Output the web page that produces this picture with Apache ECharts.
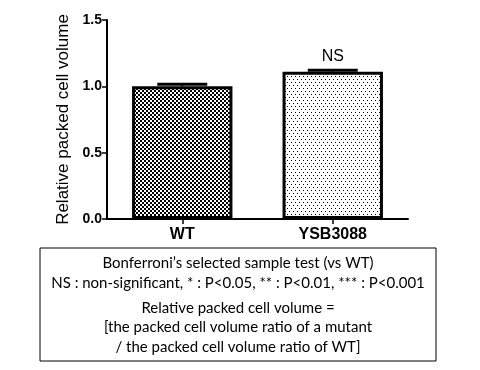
<!DOCTYPE html>
<html><head><meta charset="utf-8">
<script src="https://cdn.jsdelivr.net/npm/echarts@6/dist/echarts.min.js"></script>
<style>html,body{margin:0;padding:0;background:#fff}#c{width:480px;height:370px}</style>
</head><body><div id="c"></div>
<script>
var categories = ['WT', 'YSB3088'];
var values = [1.0, 1.11];
var errors = [0.015, 0.012];
var sigLabels = ['', 'NS'];
var yTicks = [0, 0.5, 1.0, 1.5];
var noteLines1 = ['Bonferroni\u2019s selected sample test (vs WT)', 'NS : non-significant, * : P<0.05, ** : P<0.01, *** : P<0.001'];
var noteLines2 = ['Relative packed cell volume =', '[the packed cell volume ratio of a mutant', '/ the packed cell volume ratio of WT]'];

function checker() {
  var c = document.createElement('canvas'); c.width = 4; c.height = 4;
  var g = c.getContext('2d'); g.fillStyle = '#fff'; g.fillRect(0,0,4,4);
  g.fillStyle = '#000'; g.fillRect(0,0,2,2); g.fillRect(2,2,2,2); return c;
}
function dots() {
  var c = document.createElement('canvas'); c.width = 4; c.height = 6;
  var g = c.getContext('2d'); g.fillStyle = '#fff'; g.fillRect(0,0,4,6);
  g.fillStyle = '#000'; g.fillRect(1,1,1,1); g.fillRect(3,4,1,1); return c;
}
var patterns = [checker(), dots()];

var chart = echarts.init(document.getElementById('c'), null, {renderer: 'canvas'});
var barData = values.map(function (v, i) {
  return {
    value: v,
    itemStyle: {color: {image: patterns[i], repeat: 'repeat'}},
    label: {show: !!sigLabels[i], formatter: sigLabels[i]}
  };
});
var font = 'Arial, "Liberation Sans", sans-serif';
var noteFont = 'Lato, "Open Sans", sans-serif';
var graphics = [{
  type: 'rect', shape: {x: 40, y: 248, width: 396, height: 113},
  style: {fill: '#fff', stroke: '#000', lineWidth: 1}
}];
noteLines1.forEach(function (t, i) {
  graphics.push({type: 'text', x: 238, y: 263 + i * 20, style: {text: t, font: '15px ' + noteFont, fill: '#000', align: 'center', verticalAlign: 'middle'}});
});
noteLines2.forEach(function (t, i) {
  graphics.push({type: 'text', x: 238, y: 308 + i * 19.5, style: {text: t, font: '15px ' + noteFont, fill: '#000', align: 'center', verticalAlign: 'middle'}});
});

chart.setOption({
  animation: false,
  grid: {left: 107, right: 72, top: 20, bottom: 151},
  xAxis: {
    type: 'category', data: categories,
    axisLine: {lineStyle: {color: '#000', width: 2}},
    axisTick: {show: true, alignWithLabel: true, length: 5, lineStyle: {color: '#000', width: 1.5}},
    axisLabel: {color: '#000', fontWeight: 'bold', fontSize: 16, fontFamily: font, margin: 8}
  },
  yAxis: {
    type: 'value', min: 0, max: 1.5, interval: 0.5,
    name: 'Relative packed cell volume', nameLocation: 'middle', nameGap: 30,
    nameTextStyle: {color: '#000', fontSize: 17, fontFamily: font},
    axisLine: {show: true, lineStyle: {color: '#000', width: 2}},
    axisTick: {show: true, length: 5, lineStyle: {color: '#000', width: 1.5}},
    splitLine: {show: false},
    axisLabel: {color: '#000', fontWeight: 'bold', fontSize: 14, fontFamily: font, margin: 5,
      formatter: function (v) { return v.toFixed(1); }}
  },
  series: [{
    type: 'bar', data: barData, barWidth: '66.7%',
    itemStyle: {borderColor: '#000', borderWidth: 3},
    label: {position: 'top', distance: 7, color: '#000', fontSize: 16, fontFamily: font}
  }, {
    type: 'custom',
    data: values.map(function (v, i) { return [i, v, v + errors[i]]; }),
    renderItem: function (params, api) {
      var lo = api.coord([api.value(0), api.value(1)]);
      var hi = api.coord([api.value(0), api.value(2)]);
      return {type: 'group', children: [
        {type: 'line', shape: {x1: lo[0], y1: lo[1], x2: hi[0], y2: hi[1]}, style: {stroke: '#000', lineWidth: 2}},
        {type: 'line', shape: {x1: hi[0] - 25, y1: hi[1], x2: hi[0] + 25, y2: hi[1]}, style: {stroke: '#000', lineWidth: 3}}
      ]};
    },
    z: 5
  }],
  graphic: graphics
});
</script></body></html>
